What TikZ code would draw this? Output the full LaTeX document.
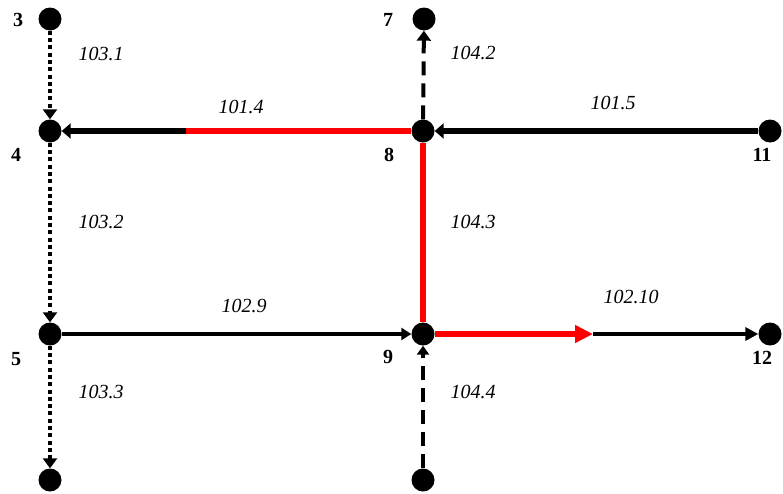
\documentclass[tikz,border=0pt]{standalone}
\usepackage{fontspec}
\setmainfont{Liberation Serif}
\newfontfamily\labfont{Liberation Serif}
\usetikzlibrary{arrows.meta}
\begin{document}
\begin{tikzpicture}[x=1pt,y=-1pt,
  dot/.style={circle,fill=black,minimum size=23pt,inner sep=0pt},
  lab/.style={font=\labfont\fontsize{20}{24}\selectfont\itshape,inner sep=0pt},
  num/.style={font=\labfont\fontsize{20}{24}\selectfont\bfseries,inner sep=0pt},
  tipA/.style={-{Triangle[length=10pt,width=14pt]}},
  dotline/.style={line width=4pt,dash pattern=on 4pt off 3.3pt},
  dashline/.style={line width=4pt,dash pattern=on 14pt off 8pt},
  heavy/.style={line width=5.5pt},
  med/.style={line width=3.5pt},
  hot/.style={draw=red,line width=5.5pt}]
\useasboundingbox (0,0) rectangle (783,493);
% nodes
\node[dot] (n3) at (50,19) {};
\node[dot] (n4) at (50,131) {};
\node[dot] (n5) at (50,334) {};
\node[dot] (n6) at (50,480) {};
\node[dot] (n7) at (424,19) {};
\node[dot] (n8) at (423,131) {};
\node[dot] (n9) at (423,334) {};
\node[dot] (n10) at (423,480) {};
\node[dot] (n11) at (770,131) {};
\node[dot] (n12) at (770,334) {};
\coordinate (s1) at (186,131);
\coordinate (s2) at (593,334);
% connectors
\draw[dotline,tipA] (n3) -- (n4);
\draw[dotline,tipA] (n4) -- (n5);
\draw[dotline,tipA] (n5) -- (n6);
\draw[dashline,tipA] (n8) -- (n7);
\draw[dashline,-{Triangle[length=9pt,width=12pt]}] (n10) -- (n9);
\draw[heavy,-{Triangle[length=9pt,width=15pt]}] (n11) -- (n8);
\draw[hot] (n8) -- (s1);
\draw[heavy,-{Triangle[length=9pt,width=15pt]}] (s1) -- (n4);
\draw[hot] (n8) -- (n9);
\draw[med,-{Triangle[length=10pt,width=12pt]}] (n5) -- (n9);
\draw[hot,-{Triangle[length=18pt,width=17pt]},red] (n9) -- (s2);
\draw[med,-{Triangle[length=13pt,width=13pt]}] (s2) -- (n12);
% node labels
\node[num] (t3) at (18,20) {3};
\node[num] (t4) at (16,155) {4};
\node[num] (t5) at (16,359) {5};
\node[num] (t7) at (388,20) {7};
\node[num] (t8) at (389,155) {8};
\node[num] (t9) at (388,357) {9};
\node[num] (t11) at (762,155) {11};
\node[num] (t12) at (762,358) {12};
% edge labels
\node[lab] (l1031) at (101,54) {103.1};
\node[lab] (l1032) at (101,222) {103.2};
\node[lab] (l1033) at (101,392) {103.3};
\node[lab] (l1042) at (473,53) {104.2};
\node[lab] (l1043) at (473,222) {104.3};
\node[lab] (l1044) at (473,392) {104.4};
\node[lab] (l1014) at (241,107) {101.4};
\node[lab] (l1015) at (613,103) {101.5};
\node[lab] (l1029) at (244,306) {102.9};
\node[lab] (l10210) at (631,297) {102.10};
\end{tikzpicture}
\end{document}
